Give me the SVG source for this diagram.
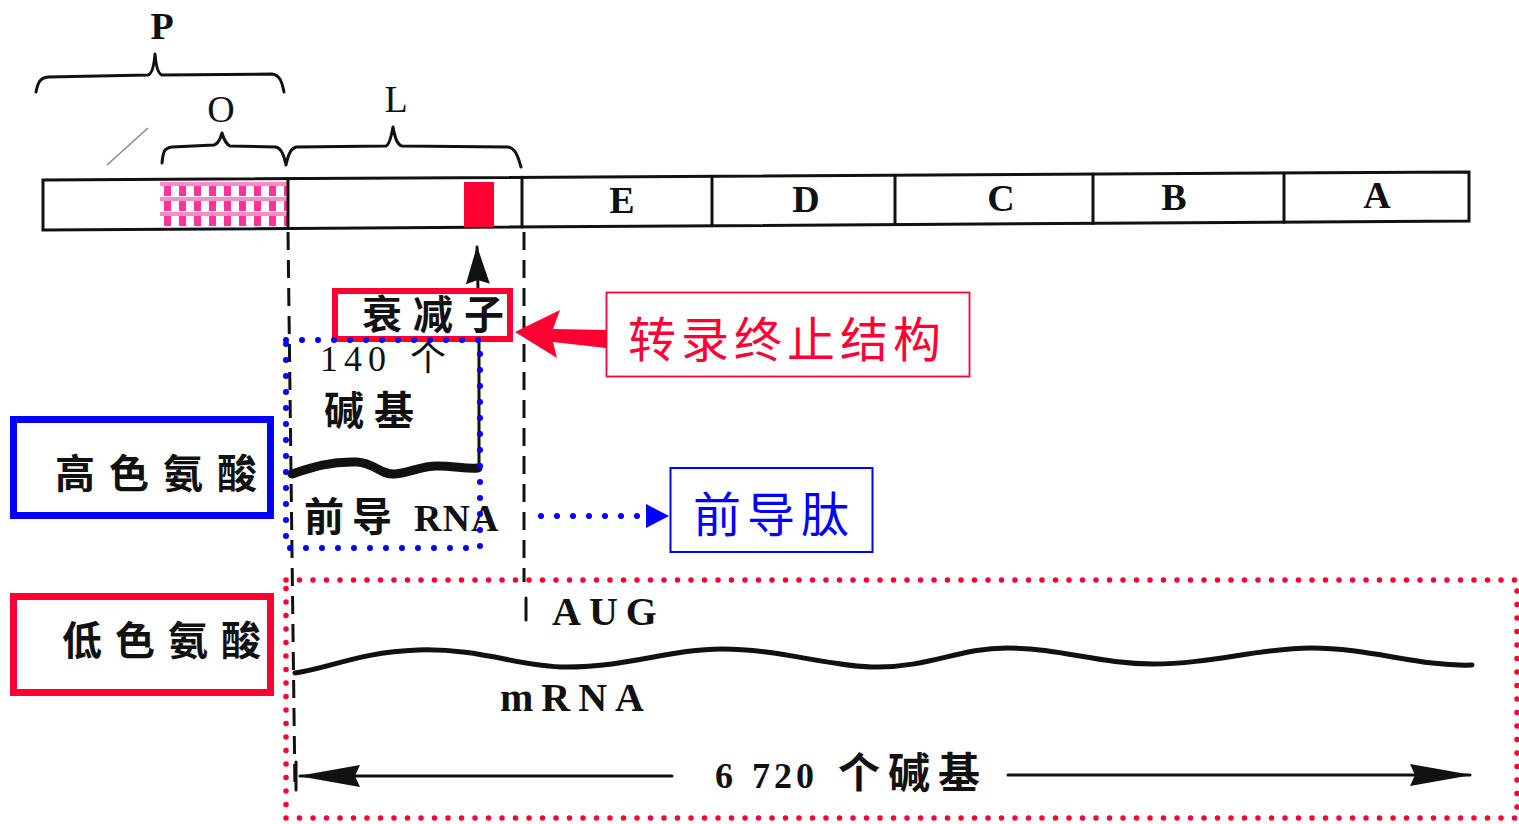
<svg xmlns="http://www.w3.org/2000/svg" width="1519" height="824" viewBox="0 0 1519 824">
<style>
.ser{font-family:"Liberation Serif","Noto Sans CJK SC",serif;fill:#111;}
.cjk{font-family:"Liberation Serif","Noto Sans CJK SC",sans-serif;fill:#111;font-weight:700;}
.kai{font-family:"Noto Sans CJK SC",sans-serif;}
.ln{fill:none;stroke:#111;stroke-width:3;stroke-linecap:round;stroke-linejoin:round;}
.dash{fill:none;stroke:#111;stroke-width:3;stroke-dasharray:18 10;}
.bdot{fill:none;stroke:#0000ff;stroke-width:6;stroke-linecap:round;stroke-dasharray:0 16;}
.rdot{fill:none;stroke:#ff0033;stroke-width:5.5;stroke-linecap:round;stroke-dasharray:0 13.5;}
</style>
<defs>
<pattern id="pk" x="160" y="182" width="15" height="15" patternUnits="userSpaceOnUse">
<rect width="15" height="15" fill="#fff"/>
<rect x="0" y="0" width="15" height="4" fill="#ff8cc6"/>
<rect x="4" y="4" width="7" height="10" fill="#ff3399"/>
</pattern>
<marker id="ah" viewBox="0 0 62 22" refX="60" refY="11" markerWidth="62" markerHeight="22" markerUnits="userSpaceOnUse" orient="auto">
<path d="M0,0 L62,11 L0,22 L5,11 z" fill="#111"/>
</marker>
<marker id="up" viewBox="0 0 38 24" refX="37" refY="12" markerWidth="38" markerHeight="24" markerUnits="userSpaceOnUse" orient="auto">
<path d="M0,0 L38,12 L0,24 L4,12 z" fill="#111"/>
</marker>
<marker id="bh" viewBox="0 0 23 24" refX="22" refY="12" markerWidth="23" markerHeight="24" markerUnits="userSpaceOnUse" orient="auto">
<path d="M0,0 L23,12 L0,24 z" fill="#0000ff"/>
</marker>
</defs>
<rect width="1519" height="824" fill="#fff"/>

<g id="connectors">
<path class="dash" d="M288,232 L295,792"/>
<path class="dash" d="M524,232 L524,582"/>
<path class="ln" d="M526,598 V620"/>
<path class="ln" d="M478,290 L477,247" marker-end="url(#up)"/>
<path class="ln" d="M479,342 V468"/>
<polygon points="515,332 560,310 553,329 606,330 606,348 553,342 557,358" fill="#ff0033"/>
<path class="bdot" d="M541,516 H640"/>
<path d="M640,516 H668" stroke="none" fill="none" marker-end="url(#bh)"/>
<path class="ln" d="M296,762 V790"/>
<path class="ln" d="M672,776 L300,776" marker-end="url(#ah)"/>
<path class="ln" d="M1008,775 L1470,775" marker-end="url(#ah)"/>
</g>

<g id="braces">
<path class="ln" d="M36,92 C38,82 40,78 48,77 L148,75 C152,74 154,66 155,54 C156,66 158,74 162,75 L272,74 C280,75 282,82 284,92"/>
<path class="ln" d="M162,163 C163,152 164,148 172,147 L214,145 C218,144 220,140 222,133 C224,140 226,144 230,146 L276,147 C282,149 284,156 286,165 C288,156 290,149 296,147 L386,146 C389,145 391,138 393,127 C395,138 397,145 402,146 L508,147 C515,148 518,156 521,167"/>
<text class="ser" x="162" y="39" font-size="38" font-weight="700" text-anchor="middle">P</text>
<text class="ser" x="221" y="122" font-size="38" text-anchor="middle">O</text>
<text class="ser" x="396" y="112" font-size="38" text-anchor="middle">L</text>
<path d="M107,165 L148,128" fill="none" stroke="#888" stroke-width="1.5"/>
</g>

<g id="dna">
<rect x="160" y="181" width="127" height="46" fill="url(#pk)"/>
<polygon points="43,180 1469,172 1469,221 43,230" fill="none" stroke="#111" stroke-width="3"/>
<path class="ln" d="M288,178.6 V228.5 M522,177.3 V227 M712,176.2 V225.8 M895,175.2 V224.6 M1093,174.1 V223.4 M1284,173 V222.2"/>
<rect x="464" y="182" width="30" height="45" fill="#ff0033"/>
<text class="ser" x="622" y="213" font-size="38" font-weight="700" text-anchor="middle">E</text>
<text class="ser" x="806" y="212" font-size="38" font-weight="700" text-anchor="middle">D</text>
<text class="ser" x="1001" y="211" font-size="38" font-weight="700" text-anchor="middle">C</text>
<text class="ser" x="1174" y="210" font-size="38" font-weight="700" text-anchor="middle">B</text>
<text class="ser" x="1377" y="208" font-size="38" font-weight="700" text-anchor="middle">A</text>
</g>

<g id="attenuator">
<rect x="335" y="291" width="175" height="48" fill="#fff" stroke="#ff0033" stroke-width="6"/>
<text class="cjk" x="362" y="329" font-size="40" letter-spacing="11">衰减子</text>
</g>

<g id="leader-region">
<text class="ser" x="320" y="371" font-size="36" letter-spacing="6">140<tspan x="410">个</tspan></text>
<text class="cjk" x="324" y="425" font-size="40" letter-spacing="10">碱基</text>
<path d="M292,474 C310,468 330,461 357,462 C375,463 380,475 395,474 C410,473 420,466 437,466 C455,466 465,469 478,468" fill="none" stroke="#111" stroke-width="9" stroke-linecap="round"/>
<text class="cjk" x="304" y="531" font-size="40" letter-spacing="8">前导<tspan class="ser" x="414" font-size="38" letter-spacing="1">RNA</tspan></text>
</g>

<g id="term-structure">
<rect x="606.5" y="292.5" width="363" height="84" fill="#fff" stroke="#ff0033" stroke-width="1.8"/>
<text class="kai" x="628" y="357" font-size="48" letter-spacing="5" fill="#ff0033">转录终止结构</text>
</g>

<g id="leader-peptide">
<rect x="670.5" y="468" width="202" height="84" fill="#fff" stroke="#0000ff" stroke-width="2"/>
<text class="kai" x="693" y="532" font-size="48" letter-spacing="6" fill="#0000ff">前导肽</text>
</g>

<g id="high-trp">
<rect x="13.5" y="419.5" width="257" height="96" fill="none" stroke="#0000ff" stroke-width="7"/>
<text class="cjk" x="55" y="488" font-size="40" letter-spacing="14">高色氨酸</text>
</g>

<g id="low-trp">
<rect x="13.5" y="596.5" width="257" height="96" fill="none" stroke="#ff0033" stroke-width="7"/>
<text class="cjk" x="62" y="655" font-size="40" letter-spacing="13">低色氨酸</text>
</g>

<g id="mrna">
<path d="M295,673 C330,668 360,652 418,650 C480,648 520,667 566,667 C630,667 670,649 722,649 C780,649 830,667 878,667 C930,667 960,648 1007,648 C1060,648 1100,664 1153,664 C1210,664 1260,648 1311,648 C1370,648 1420,667 1472,665" fill="none" stroke="#111" stroke-width="5" stroke-linecap="round"/>
<text class="ser" x="552" y="625" font-size="40" font-weight="700" letter-spacing="8">AUG</text>
<text class="ser" x="500" y="711" font-size="40" font-weight="700" letter-spacing="8">mRNA</text>
<text class="ser" x="715" y="788" font-size="36" font-weight="700">6<tspan x="752" letter-spacing="4">720</tspan><tspan class="cjk" x="838" font-size="42" letter-spacing="8">个碱基</tspan></text>
</g>

<g id="highlight-boxes">
<path class="bdot" d="M286,340 H480 V548 H286 Z"/>
<path class="rdot" d="M286,580 H1517 V818 H286 Z"/>
</g>
</svg>
